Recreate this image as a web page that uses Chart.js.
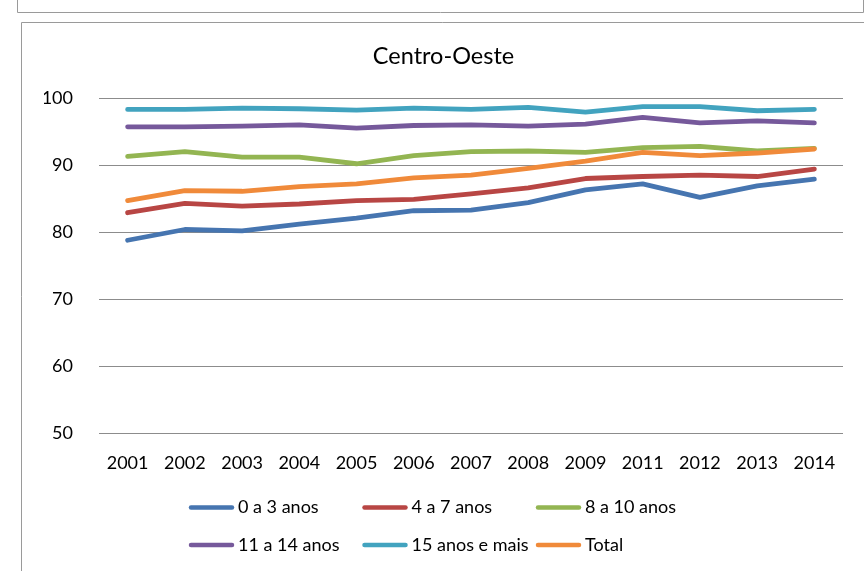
<!DOCTYPE html>
<html>
<head>
<meta charset="utf-8">
<script src="https://cdn.jsdelivr.net/npm/chart.js@4"></script>
<style>
  html, body { margin: 0; padding: 0; background: #fff; }
  canvas { display: block; }
</style>
</head>
<body>
<canvas id="chart" width="864" height="571"></canvas>
<script>
// ─── Data ───────────────────────────────────────────────
const years = ["2001", "2002", "2003", "2004", "2005", "2006", "2007", "2008", "2009", "2011", "2012", "2013", "2014"];
const age0to3   = [78.8, 80.4, 80.2, 81.2, 82.1, 83.2, 83.3, 84.4, 86.3, 87.2, 85.2, 86.9, 87.9];
const age4to7   = [82.9, 84.3, 83.9, 84.2, 84.7, 84.9, 85.7, 86.6, 88.0, 88.3, 88.5, 88.3, 89.4];
const age8to10  = [91.3, 92.0, 91.2, 91.2, 90.2, 91.4, 92.0, 92.1, 91.9, 92.6, 92.8, 92.1, 92.5];
const age11to14 = [95.7, 95.7, 95.8, 96.0, 95.5, 95.9, 96.0, 95.8, 96.1, 97.1, 96.3, 96.6, 96.3];
const age15plus = [98.3, 98.3, 98.5, 98.4, 98.2, 98.5, 98.3, 98.6, 97.9, 98.7, 98.7, 98.1, 98.3];
const total     = [84.7, 86.2, 86.1, 86.8, 87.2, 88.1, 88.5, 89.5, 90.6, 91.9, 91.4, 91.8, 92.4];

const seriesNames = ["0 a 3 anos", "4 a 7 anos", "8 a 10 anos", "11 a 14 anos", "15 anos e mais", "Total"];
const seriesData = [age0to3, age4to7, age8to10, age11to14, age15plus, total];
const seriesColors = ["#4675B0", "#B84644", "#93B552", "#76599B", "#42A3BF", "#F08A3A"];

const FONT = "Lato, 'Open Sans', sans-serif";

// ─── Frame lines around the chart (Excel-style box) ─────
const framePlugin = {
  id: "frame",
  beforeDraw(chart) {
    const ctx = chart.ctx;
    ctx.save();
    ctx.strokeStyle = "#9a9a9a";
    ctx.lineWidth = 1;
    ctx.beginPath();
    // bottom edge of the box above
    ctx.moveTo(17.5, 0); ctx.lineTo(17.5, 12.5); ctx.lineTo(863.5, 12.5); ctx.lineTo(863.5, 0);
    // this chart's box
    ctx.moveTo(21.5, 571); ctx.lineTo(21.5, 22.5); ctx.lineTo(864, 22.5);
    ctx.stroke();
    ctx.restore();
  }
};

// ─── Legend in fixed columns, two rows ──────────────────
const legendPlugin = {
  id: "fixedLegend",
  afterDraw(chart) {
    const ctx = chart.ctx;
    const colX = [189, 362.5, 536];
    const rowY = [507.5, 545];
    ctx.save();
    ctx.font = "18px " + FONT;
    ctx.textBaseline = "middle";
    ctx.fillStyle = "#000";
    chart.data.datasets.forEach((ds, i) => {
      const x = colX[i % 3];
      const y = rowY[Math.floor(i / 3)];
      ctx.strokeStyle = ds.borderColor;
      ctx.lineWidth = 4.5;
      ctx.lineCap = "round";
      ctx.beginPath();
      ctx.moveTo(x + 2, y);
      ctx.lineTo(x + 43, y);
      ctx.stroke();
      ctx.fillText(ds.label, x + 49, y);
    });
    ctx.restore();
  }
};

new Chart(document.getElementById("chart").getContext("2d"), {
  type: "line",
  data: {
    labels: years,
    datasets: seriesNames.map((name, i) => ({
      label: name,
      data: seriesData[i],
      borderColor: seriesColors[i],
      backgroundColor: seriesColors[i],
      borderWidth: 4.8,
      borderCapStyle: "round",
      borderJoinStyle: "round",
      pointRadius: 0,
      tension: 0,
      order: seriesNames.length - i
    }))
  },
  options: {
    responsive: false,
    animation: false,
    devicePixelRatio: 1,
    layout: { padding: { left: 44, right: 21, top: 0, bottom: 0 } },
    plugins: {
      legend: { display: false },
      tooltip: { enabled: false },
      title: {
        display: true,
        text: "Centro-Oeste",
        color: "#000",
        font: { family: FONT, size: 23.5, weight: "normal" },
        padding: { top: 42, bottom: 27.8 }
      }
    },
    scales: {
      x: {
        offset: true,
        grid: { display: false, drawTicks: false },
        border: { display: false },
        ticks: { color: "#000", font: { family: FONT, size: 18 }, padding: 19, maxRotation: 0, autoSkip: false },
        afterFit: (scale) => { scale.height = 137.5; }
      },
      y: {
        min: 50,
        max: 100,
        grid: { color: "#8c8c8c", lineWidth: 1, drawTicks: false },
        border: { display: false },
        ticks: { stepSize: 10, color: "#000", font: { family: FONT, size: 18 }, padding: 26 },
        afterFit: (scale) => { scale.width = 55; }
      }
    }
  },
  plugins: [framePlugin, legendPlugin]
});
</script>
</body>
</html>
